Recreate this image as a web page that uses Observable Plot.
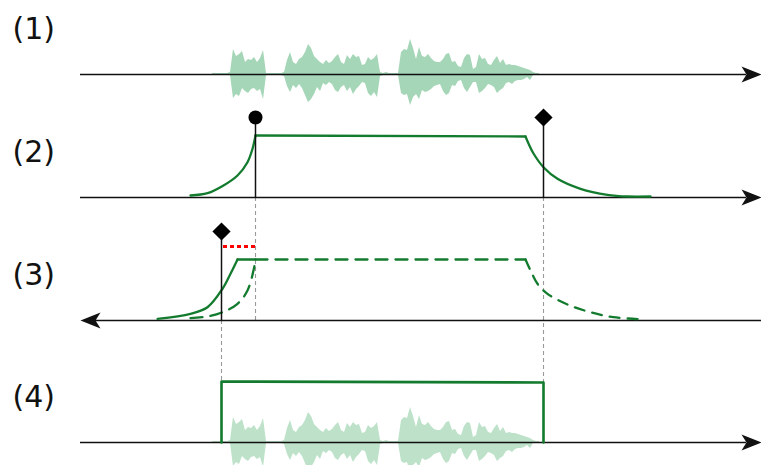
<!DOCTYPE html>
<html><head><meta charset="utf-8">
<script src="https://cdn.jsdelivr.net/npm/d3@7"></script>
<script src="https://cdn.jsdelivr.net/npm/@observablehq/plot@0.6"></script>
<style>body{margin:0;background:#fff}svg{display:block}</style>
</head><body><div id="chart"></div>
<script>
// ---- data ----
const laneLabels = ["(1)", "(2)", "(3)", "(4)"];
const laneBase = [74, 197, 320, 442];            // level of each lane's time axis
const axisStart = [80, 80, 80, 80];
const axisEnd = [761, 761, 761, 761];
const axisDir = ["right", "right", "left", "right"];

// speech waveform envelope (time, upper, lower amplitude)
const waveT = [212,215,218,221,224,227,230,233,236,239,242,245,248,251,254,257,260,263,266,269,272,275,278,281,284,287,290,293,296,299,302,305,308,311,314,317,320,323,326,329,332,335,338,341,344,347,350,353,356,359,362,365,368,371,374,377,380,383,386,389,392,395,398,401,404,407,410,413,416,419,422,425,428,431,434,437,440,443,446,449,452,455,458,461,464,467,470,473,476,479,482,485,488,491,494,497,500,503,506,509,512,515,518,521,524,527,530,533,536,539];
const waveUp = [1,1,1,1,1,1,2,25,18,20,23,12,15,14,17,12,16,24,1,1,1,1,1,1,2,14,22,12,10,15,17,22,30,26,18,15,12,10,14,11,13,17,20,12,10,19,15,20,17,18,9,10,17,14,16,20,2,1,2,1,1,1,1,22,25,24,35,26,15,27,18,17,20,16,13,12,12,15,20,21,12,13,8,7,16,20,19,5,7,20,15,16,10,9,14,18,11,15,9,10,9,9,8,7,6,5,4,2,1,1];
const waveDown = [1,1,1,1,1,1,1,24,20,22,14,17,19,15,14,17,15,25,1,1,1,1,1,1,2,12,18,11,14,10,14,21,28,25,20,13,17,9,11,8,10,16,18,13,11,17,13,20,15,12,8,9,19,22,18,23,2,1,1,1,1,1,1,19,21,20,31,23,20,25,16,18,17,15,12,11,10,17,21,19,11,12,7,6,14,18,13,8,8,19,17,14,10,11,13,19,16,14,9,8,10,7,6,6,5,3,6,1,1,0];

// (2) onset/offset probability curve
const riseT2 = [190, 207, 223, 237, 247, 252, 255];
const riseV2 = [2, 4.3, 12, 22, 35.3, 48.7, 62];
const holdT2 = [255, 525];
const holdV2 = [62, 61];
const fallT2 = [525, 528, 533, 543, 557, 580, 607, 627, 650];
const fallV2 = [61, 54, 44, 30.3, 18.7, 8.7, 2.7, 1, 1];

// (3) reversed pass: solid (new) rise and dashed (copied) curve
const riseT3 = [157, 190, 207, 222, 230, 237];
const riseV3 = [1.7, 6.7, 13.3, 31.7, 46.7, 61];
const holdT3 = [237, 255];
const holdV3 = [61, 61];
const dRiseT3 = [190, 207, 222, 237, 247, 253, 255];
const dRiseV3 = [2.3, 4, 8.3, 16.7, 30, 50, 61];
const dHoldT3 = [255, 525];
const dHoldV3 = [61, 61];
const dFallT3 = [525, 530, 537, 547, 567, 590, 613, 640];
const dFallV3 = [61, 50, 36.7, 26.7, 16, 8.3, 3.3, 1.3];

// (4) resulting segment
const segT = [221, 221, 543, 543];
const segV = [0, 61, 60, 0];

// event markers
const onsetT = 255, offsetT = 543, newOnsetT = 221;
const stemH = [80, 80, 89];          // stem heights for (2) onset, (2) offset, (3) onset
const gapV = 74;                     // red gap level in lane (3)

// ---- build ----
const pts = (T, V, lane) => T.map((t, i) => ({t, y: laneBase[lane] - V[i]}));
const waveData = (lane) => waveT.map((t, i) => ({t, y1: laneBase[lane] - waveUp[i], y2: laneBase[lane] + waveDown[i]}));
const axes = laneBase.map((b, i) => ({b, x1: axisDir[i] === "left" ? axisStart[i] + 15 : axisStart[i], x2: axisDir[i] === "left" ? axisEnd[i] : axisEnd[i] - 15, tip: axisDir[i] === "left" ? axisStart[i] : axisEnd[i], rot: axisDir[i] === "left" ? 180 : 0}));
const stealth = {draw(ctx) { const L = 20, h = 8, n = 15; ctx.moveTo(0, 0); ctx.lineTo(-L, -h); ctx.lineTo(-n, 0); ctx.lineTo(-L, h); ctx.closePath(); }};

const green = "#137b2e";
const lw = 2.3;
const smooth = "catmull-rom";

const chart = Plot.plot({
  width: 761, height: 465,
  margin: 0,
  x: {domain: [0, 761], axis: null},
  y: {domain: [0, 465], reverse: true, axis: null},
  style: {fontFamily: "DejaVu Sans", background: "white"},
  marks: [
    Plot.areaY(waveData(0), {x: "t", y1: "y1", y2: "y2", fill: "#a5d6b7", curve: "linear"}),
    Plot.areaY(waveData(3), {x: "t", y1: "y1", y2: "y2", fill: "#bde2c9", curve: "linear"}),
    // dashed guides
    Plot.ruleX([{x: onsetT, a: laneBase[1], b: laneBase[2]}, {x: offsetT, a: laneBase[1], b: laneBase[3]}, {x: newOnsetT, a: laneBase[2], b: laneBase[3]}],
      {x: "x", y1: "a", y2: "b", stroke: "#9a9a9a", strokeWidth: 1.1, strokeDasharray: "4,3"}),
    // time axes
    Plot.ruleY(axes, {y: "b", x1: "x1", x2: "x2", stroke: "#111", strokeWidth: 1.6}),
    Plot.dot(axes, {x: "tip", y: "b", symbol: stealth, rotate: "rot", fill: "#111", stroke: "none", r: 5}),
    // lane 2
    Plot.line(pts(riseT2, riseV2, 1), {x: "t", y: "y", stroke: green, strokeWidth: lw, curve: smooth}),
    Plot.line(pts(holdT2, holdV2, 1), {x: "t", y: "y", stroke: green, strokeWidth: lw}),
    Plot.line(pts(fallT2, fallV2, 1), {x: "t", y: "y", stroke: green, strokeWidth: lw, curve: smooth}),
    // lane 3
    Plot.line(pts(riseT3, riseV3, 2), {x: "t", y: "y", stroke: green, strokeWidth: lw, curve: smooth}),
    Plot.line(pts(holdT3, holdV3, 2), {x: "t", y: "y", stroke: green, strokeWidth: lw}),
    Plot.line(pts(dRiseT3, dRiseV3, 2), {x: "t", y: "y", stroke: green, strokeWidth: lw, strokeDasharray: "12,8", curve: smooth}),
    Plot.line(pts(dHoldT3, dHoldV3, 2), {x: "t", y: "y", stroke: green, strokeWidth: lw, strokeDasharray: "12,8"}),
    Plot.line(pts(dFallT3, dFallV3, 2), {x: "t", y: "y", stroke: green, strokeWidth: lw, strokeDasharray: "10,8", curve: smooth}),
    Plot.ruleY([laneBase[2] - gapV], {x1: newOnsetT + 2, x2: onsetT, stroke: "#ff0000", strokeWidth: 3, strokeDasharray: "4,3"}),
    // lane 4
    Plot.line(pts(segT, segV, 3), {x: "t", y: "y", stroke: green, strokeWidth: 2.6}),
    // stems and markers
    Plot.ruleX([{x: onsetT, b: laneBase[1], h: stemH[0]}, {x: offsetT, b: laneBase[1], h: stemH[1]}, {x: newOnsetT, b: laneBase[2], h: stemH[2]}],
      {x: "x", y1: "b", y2: d => d.b - d.h, stroke: "#111", strokeWidth: 1.5}),
    Plot.dot([{x: onsetT, y: laneBase[1] - stemH[0]}], {x: "x", y: "y", r: 7, fill: "#000", stroke: "none"}),
    Plot.dot([{x: offsetT, y: laneBase[1] - stemH[1]}, {x: newOnsetT, y: laneBase[2] - stemH[2]}], {x: "x", y: "y", symbol: "diamond2", r: 8.2, fill: "#000", stroke: "none"}),
    // lane labels
    Plot.text(laneLabels, {x: 12, y: (d, i) => laneBase[i] - 45, text: d => d, textAnchor: "start", lineAnchor: "middle", fontSize: 30, fill: "#111"})
  ]
});
document.getElementById("chart").append(chart);
</script></body></html>
